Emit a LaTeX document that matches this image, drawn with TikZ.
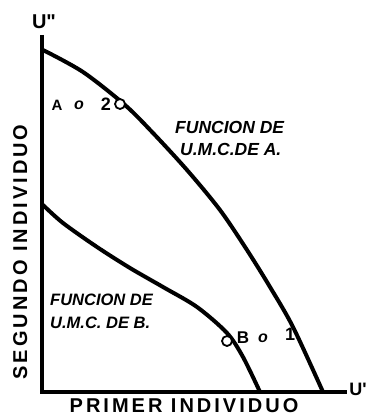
\documentclass[tikz,border=0pt]{standalone}
\usepackage{fontspec}
\setmainfont{Liberation Sans}
\newfontfamily\spaced[LetterSpace=15]{Liberation Sans}
\usetikzlibrary{positioning}

\begin{document}
\begin{tikzpicture}[
  x=1pt, y=-1pt,
  axis/.style={line width=4.5pt},
  curve/.style={line width=4pt, line join=round, line cap=round},
  axlbl/.style={font=\fontsize{20}{20}\selectfont\spaced\bfseries,
                inner sep=0pt, anchor=base},
  fnlbl/.style={font=\fontsize{16.5}{16.5}\selectfont\bfseries\itshape,
                inner sep=0pt, anchor=base west},
  pt/.style={font=\fontsize{16}{16}\selectfont\bfseries, inner sep=0pt},
  ring/.style={circle, draw, line width=1.8pt, fill=white,
               minimum size=10pt, inner sep=0pt}
]
\useasboundingbox (0,0) rectangle (369,417);

\coordinate (O) at (42,392);
\coordinate (ytop) at (42,35);
\coordinate (xend) at (347,392);
\draw[axis] (ytop) -- (O) -- (xend);

% utility possibility curves
\draw[curve] plot[smooth] coordinates {(43,50) (83,72) (125,105) (153,133)
  (187,170) (220,210) (247,250) (270,287) (293,327) (323,392)};
\draw[curve] plot[smooth] coordinates {(43,205) (63,223) (97,247) (130,268)
  (163,287) (197,307) (227,333) (243,357) (260,392)};

\node[ring] (p20) at (120,104) {};
\node[ring] (pB) at (227,341) {};

\node[axlbl] (xlbl) at (184,412) {PRIMER INDIVIDUO};
\node[axlbl, rotate=90] (ylbl) at (27,252) {SEGUNDO INDIVIDUO};
\node[pt, font=\fontsize{20}{20}\selectfont\bfseries] (uy) at (44,22) {U\textquotedbl};
\node[pt, font=\fontsize{18}{18}\selectfont\bfseries] (ux) at (358,389) {U\textquotesingle};

\node[fnlbl, font=\fontsize{17.5}{17.5}\selectfont\bfseries\itshape] (fa1) at (175,133) {FUNCION DE};
\node[fnlbl, font=\fontsize{17.5}{17.5}\selectfont\bfseries\itshape] (fa2) at (180,155) {U.M.C.DE A.};
\node[fnlbl] (fb1) at (50,305) {FUNCION DE};
\node[fnlbl] (fb2) at (50,328) {U.M.C. DE B.};

\node[pt, font=\fontsize{15}{15}\selectfont\bfseries] (la) at (57,105) {A};
\node[pt, font=\fontsize{16}{16}\selectfont\bfseries\itshape] (loa) at (79,105) {o};
\node[pt, font=\fontsize{18}{18}\selectfont\bfseries] (l2) at (106,104) {2};
\node[pt, font=\fontsize{17}{17}\selectfont\bfseries] (lb) at (243,338) {B};
\node[pt, font=\fontsize{16}{16}\selectfont\bfseries\itshape] (lob) at (263,338) {o};
\node[pt, font=\fontsize{18}{18}\selectfont\bfseries] (l1) at (290,334) {1};
\end{tikzpicture}
\end{document}
